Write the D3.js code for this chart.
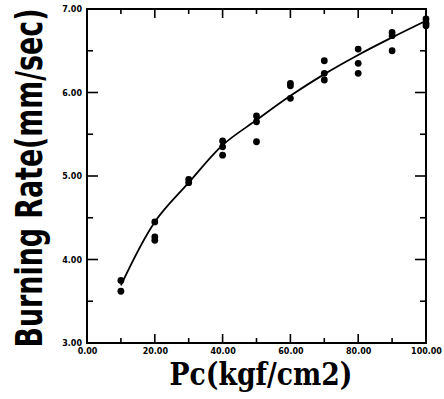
<!DOCTYPE html>
<html>
<head>
<meta charset="utf-8">
<script src="https://cdn.jsdelivr.net/npm/d3@7"></script>
<style>
    html, body { margin: 0; padding: 0; background: #fff; }
    #chart { width: 444px; height: 399px; }
</style>
</head>
<body>
<div id="chart"></div>
<script>
// measured burning rate points (Pc, rate)
const pressures = [10, 10, 20, 20, 20, 30, 30, 40, 40, 40, 50, 50, 50, 60, 60, 60, 70, 70, 70, 80, 80, 80, 90, 90, 90, 100, 100, 100];
const rates = [3.75, 3.62, 4.45, 4.27, 4.23, 4.96, 4.92, 5.42, 5.35, 5.25, 5.72, 5.65, 5.41, 6.11, 6.08, 5.93, 6.38, 6.23, 6.15, 6.52, 6.35, 6.23, 6.72, 6.68, 6.50, 6.88, 6.83, 6.80];

// fitted curve
const fitPressures = [10, 20, 30, 40, 50, 60, 70, 80, 90, 100];
const fitRates = [3.69, 4.45, 4.92, 5.37, 5.67, 5.96, 6.22, 6.45, 6.66, 6.86];

const xTicks = [0, 20, 40, 60, 80, 100];
const yTicks = [3, 4, 5, 6, 7];

const width = 444, height = 399;
const plotLeft = 87, plotRight = 426, plotTop = 9, plotBottom = 343;

const svg = d3.select('#chart')
    .append('svg')
    .attr('width', width)
    .attr('height', height)

const x = d3.scaleLinear().domain([0, 100]).range([plotLeft, plotRight]);
const y = d3.scaleLinear().domain([3, 7]).range([plotBottom, plotTop]);

const ink = '#000';

// frame
svg.append('rect')
    .attr('x', plotLeft)
    .attr('y', plotTop)
    .attr('width', plotRight - plotLeft)
    .attr('height', plotBottom - plotTop)
    .attr('fill', 'none')
    .attr('stroke', ink)
    .attr('stroke-width', 2)

const xMinor = d3.range(0, 101, 10);
const yMinor = d3.range(3, 7.01, 0.5);
const isMajorX = d => d % 20 === 0;
const isMajorY = d => Number.isInteger(d);

// bottom axis
const xAxis = svg.append('g')
    .attr('transform', 'translate(0,' + plotBottom + ')')
    .call(d3.axisBottom(x).tickValues(xTicks).tickSize(0).tickPadding(5).tickFormat(d3.format('.2f')))
xAxis.select('.domain').remove();
xAxis.selectAll('text')
    .style('font-family', 'DejaVu Sans')
    .style('font-weight', 'bold')
    .style('font-size', '8px')
    .attr('fill', ink)

// left axis
const yAxis = svg.append('g')
    .attr('transform', 'translate(' + plotLeft + ',0)')
    .call(d3.axisLeft(y).tickValues(yTicks).tickSize(0).tickPadding(5).tickFormat(d3.format('.2f')))
yAxis.select('.domain').remove();
yAxis.selectAll('text')
    .style('font-family', 'DejaVu Sans')
    .style('font-weight', 'bold')
    .style('font-size', '8px')
    .attr('fill', ink)

// inward ticks on all four sides
const ticks = svg.append('g').attr('stroke', ink).attr('stroke-width', 1.6);
ticks.append('g').selectAll('line')
    .data(xMinor.slice(1, -1))
    .join('line')
    .attr('x1', d => x(d)).attr('x2', d => x(d))
    .attr('y1', plotBottom).attr('y2', d => plotBottom - (isMajorX(d) ? 9 : 5))
ticks.append('g').selectAll('line')
    .data(xMinor.slice(1, -1))
    .join('line')
    .attr('x1', d => x(d)).attr('x2', d => x(d))
    .attr('y1', plotTop).attr('y2', d => plotTop + (isMajorX(d) ? 9 : 5))
ticks.append('g').selectAll('line')
    .data(yMinor.slice(1, -1))
    .join('line')
    .attr('y1', d => y(d)).attr('y2', d => y(d))
    .attr('x1', plotLeft).attr('x2', d => plotLeft + (isMajorY(d) ? 11 : 6))
ticks.append('g').selectAll('line')
    .data(yMinor.slice(1, -1))
    .join('line')
    .attr('y1', d => y(d)).attr('y2', d => y(d))
    .attr('x1', plotRight).attr('x2', d => plotRight - (isMajorY(d) ? 11 : 6))

// fitted curve
const line = d3.line()
    .curve(d3.curveCatmullRom)
    .x(i => x(fitPressures[i]))
    .y(i => y(fitRates[i]))

svg.append('path')
    .attr('fill', 'none')
    .attr('stroke', ink)
    .attr('stroke-width', 1.8)
    .attr('d', line(d3.range(fitPressures.length)))

// points
svg.append('g')
    .selectAll('circle')
    .data(d3.range(pressures.length))
    .join('circle')
    .attr('cx', i => x(pressures[i]))
    .attr('cy', i => y(rates[i]))
    .attr('r', 3.4)
    .attr('fill', ink)

// axis titles, squeezed horizontally to the reference width
function squeezedTitle(label, family, size, cx, cy, targetLength, angle) {
    const g = svg.append('g');
    const t = g.append('text')
        .attr('text-anchor', 'middle')
        .style('font-family', family)
        .style('font-weight', 'bold')
        .style('font-size', size + 'px')
        .attr('fill', ink)
        .text(label);
    const natural = t.node().getComputedTextLength();
    g.attr('transform', 'translate(' + cx + ',' + cy + ') rotate(' + angle + ') scale(' + (targetLength / natural) + ',1)');
}

squeezedTitle('Pc(kgf/cm2)', 'DejaVu Serif', 31, 261, 385, 183, 0);
squeezedTitle('Burning Rate(mm/sec)', 'DejaVu Sans', 37, 42, 178, 339, -90);
</script>
</body>
</html>
